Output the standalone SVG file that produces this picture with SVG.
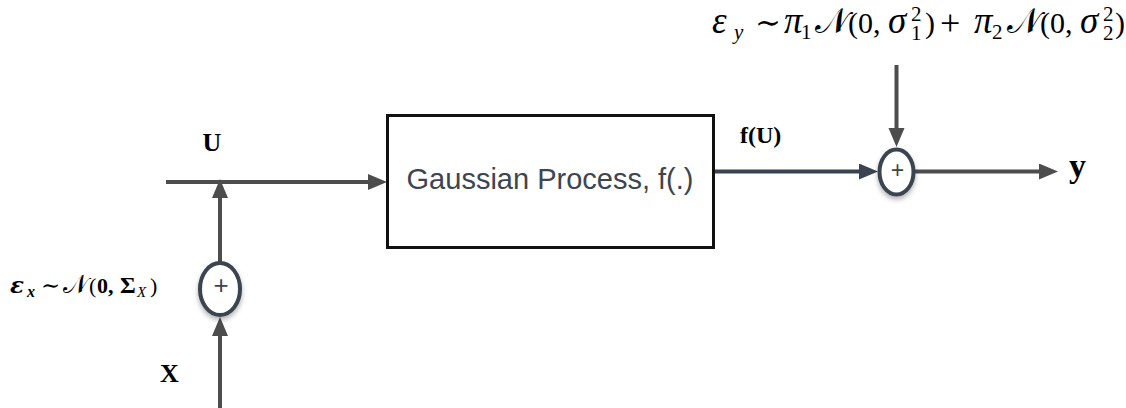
<svg xmlns="http://www.w3.org/2000/svg" width="1126" height="408" viewBox="0 0 1126 408">
  <style>
    .wire { stroke: #4d4d4d; stroke-width: 4; fill: none; }
    .wire-dark { stroke: #3a4450; stroke-width: 4; fill: none; }
    .sum { fill: #ffffff; stroke: #3a4550; stroke-width: 4; filter: url(#shadow); }
    .plus { font-family: "Liberation Sans", Arial, sans-serif; fill: #3a4550; text-anchor: middle; }
    .block { fill: #ffffff; stroke: #111111; stroke-width: 3; }
    .block-label { font-family: "Liberation Sans", Arial, sans-serif; font-size: 29px; fill: #3c4650; text-anchor: middle; }
    .math { font-family: "Liberation Serif", "Times New Roman", "DejaVu Serif", serif; fill: #000000; }
    .greek-bold { font-family: "DejaVu Serif", serif; font-style: italic; font-weight: bold; }
    .bold { font-weight: bold; }
    .it { font-style: italic; }
  </style>
  <defs>
    <marker id="arrow" markerUnits="userSpaceOnUse" markerWidth="20" markerHeight="18" refX="8" refY="8" orient="auto">
      <path d="M0,0 L19,8 L0,16 z" fill="#4d4d4d"/>
    </marker>
    <marker id="arrow-dark" markerUnits="userSpaceOnUse" markerWidth="20" markerHeight="18" refX="8" refY="8" orient="auto">
      <path d="M0,0 L19,8 L0,16 z" fill="#3a4450"/>
    </marker>
    <filter id="shadow" x="-50%" y="-50%" width="200%" height="200%">
      <feDropShadow dx="0" dy="3" stdDeviation="2.5" flood-color="#000000" flood-opacity="0.3"/>
    </filter>
  </defs>

  <!-- signal wires -->
  <g id="connectors">
    <!-- U into the process block -->
    <line class="wire" x1="166" y1="182" x2="376" y2="182" marker-end="url(#arrow)"/>
    <!-- X up into the input summer -->
    <line class="wire" x1="220" y1="408" x2="220" y2="328" marker-end="url(#arrow)"/>
    <!-- noisy input up onto the U line -->
    <line class="wire" x1="220" y1="263" x2="220" y2="190" marker-end="url(#arrow)"/>
    <!-- f(U) into the output summer -->
    <line class="wire-dark" x1="713" y1="171.5" x2="867" y2="171.5" marker-end="url(#arrow-dark)"/>
    <!-- output noise down into the summer -->
    <line class="wire" x1="896.5" y1="65" x2="896.5" y2="136" marker-end="url(#arrow)"/>
    <!-- summer out to y -->
    <line class="wire" x1="914" y1="171.5" x2="1047" y2="171.5" marker-end="url(#arrow)"/>
  </g>

  <g id="gp-block">
    <rect class="block" x="387.5" y="115.5" width="326" height="132"/>
    <text class="block-label" x="550" y="189">Gaussian Process, f(.)</text>
  </g>

  <g id="input-sum">
    <ellipse class="sum" cx="220" cy="289" rx="20" ry="26"/>
    <text class="plus" x="221" y="294" font-size="26">+</text>
  </g>

  <g id="output-sum">
    <ellipse class="sum" cx="896.5" cy="172" rx="17" ry="22.5"/>
    <text class="plus" x="897.5" y="178" font-size="23">+</text>
  </g>

  <g id="labels">
    <text class="math bold" x="202.5" y="151" font-size="26">U</text>
    <text class="math bold" x="160" y="382" font-size="26">X</text>
    <text class="math bold" x="740" y="143" font-size="24">f(U)</text>
    <text class="math bold" x="1069" y="177" font-size="34">y</text>

    <!-- input noise distribution -->
    <text class="math" font-size="22"><tspan class="greek-bold" font-size="23" x="10" y="293">ε</tspan><tspan class="bold it" font-size="16" x="27" y="297">x</tspan><tspan font-size="23" x="41" y="293">∼</tspan><tspan font-size="26" x="63" y="293">𝒩</tspan><tspan x="89" y="293">(</tspan><tspan class="bold" x="97" y="293">0,</tspan><tspan class="bold" font-size="24" x="120" y="293">Σ</tspan><tspan class="it" font-size="15" x="137" y="297">X</tspan><tspan x="150" y="293">)</tspan></text>

    <!-- output noise mixture -->
    <text class="math" font-size="30"><tspan class="it" font-size="37" x="712" y="33">ε</tspan><tspan class="it" font-size="21" x="734" y="39">y</tspan><tspan font-size="31" x="755" y="33">∼</tspan><tspan class="it" font-size="37" x="784" y="33">π</tspan><tspan font-size="21" x="801" y="39">1</tspan><tspan font-size="35" x="815" y="33">𝒩</tspan><tspan x="848" y="33">(0,</tspan><tspan class="it" font-size="37" x="888" y="33">σ</tspan><tspan font-size="21" x="911" y="21">2</tspan><tspan font-size="21" x="911" y="40">1</tspan><tspan x="925" y="33">)</tspan><tspan font-size="36" x="940" y="35">+</tspan><tspan class="it" font-size="37" x="974" y="33">π</tspan><tspan font-size="21" x="992" y="39">2</tspan><tspan font-size="35" x="1007" y="33">𝒩</tspan><tspan x="1040" y="33">(0,</tspan><tspan class="it" font-size="37" x="1080" y="33">σ</tspan><tspan font-size="21" x="1103" y="21">2</tspan><tspan font-size="21" x="1103" y="40">2</tspan><tspan x="1115" y="33">)</tspan></text>
  </g>
</svg>
